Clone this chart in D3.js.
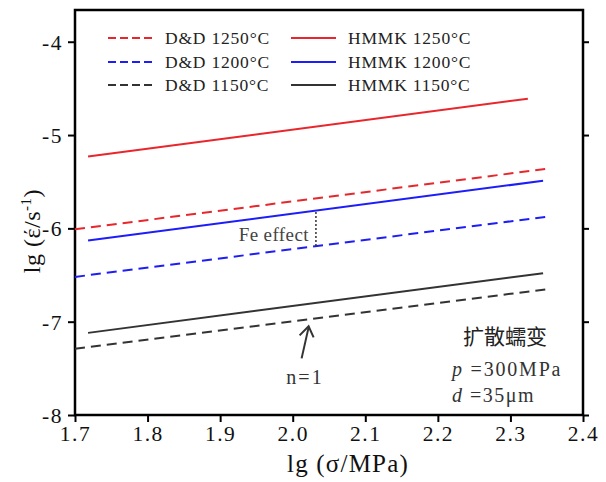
<!DOCTYPE html>
<html><head><meta charset="utf-8">
<script src="https://cdn.jsdelivr.net/npm/d3@7"></script>
<style>body{margin:0;background:#fff}svg{display:block}</style>
</head><body>
<svg id="c" width="606" height="482"></svg>
<script>
const xTicks = [1.7, 1.8, 1.9, 2.0, 2.1, 2.2, 2.3, 2.4];
const yTicks = [-8, -7, -6, -5, -4];
const seriesNames = ["D&D 1250°C", "D&D 1200°C", "D&D 1150°C", "HMMK 1250°C", "HMMK 1200°C", "HMMK 1150°C"];
const seriesColors = ["#e8262b", "#1d1dfa", "#333333", "#e8262b", "#1d1dfa", "#333333"];
const seriesDashed = [true, true, true, false, false, false];
const seriesX = [[1.70, 2.352], [1.70, 2.355], [1.70, 2.352], [1.718, 2.324], [1.718, 2.345], [1.718, 2.345]];
const seriesY = [[-6.01, -5.36], [-6.52, -5.87], [-7.29, -6.65], [-5.23, -4.61], [-6.13, -5.49], [-7.12, -6.48]];
const feX = 2.032;
const feY = [-5.825, -6.19];

const svg = d3.select("#c");
const L = 75, R = 583, T = 10, B = 415;
const x = d3.scaleLinear().domain([1.7, 2.4]).range([L, R]);
const y = d3.scaleLinear().domain([-8, -3.66]).range([B, T]);
const serif = "'Liberation Serif','Times New Roman',serif";

// axes
const gx = svg.append("g").attr("transform", `translate(0,${B})`)
  .call(d3.axisBottom(x).tickValues(xTicks).tickFormat(d3.format(".1f")).tickSizeOuter(0).tickSize(7).tickPadding(4));
const gy = svg.append("g").attr("transform", `translate(${L},0)`)
  .call(d3.axisLeft(y).tickValues(yTicks).tickFormat(d => String(d).replace("−", "-")).tickSizeOuter(0).tickSize(7).tickPadding(5));
const gr = svg.append("g").attr("transform", `translate(${R},0)`)
  .call(d3.axisRight(y).tickValues(yTicks).tickFormat("").tickSizeOuter(0).tickSize(6));
[gx, gy, gr].forEach(g => {
  g.select(".domain").remove();
  g.selectAll(".tick line").attr("stroke", "#000").attr("stroke-width", 2);
  g.selectAll("text").attr("font-family", serif).attr("font-size", 21.5).attr("letter-spacing", 1.5).attr("fill", "#111");
});
gy.selectAll("text").attr("dy", "0.35em");
svg.append("rect").attr("x", L).attr("y", T).attr("width", R - L).attr("height", B - T)
  .attr("fill", "none").attr("stroke", "#000").attr("stroke-width", 2.5);

// lines
const line = d3.line().x(d => x(d[0])).y(d => y(d[1]));
seriesNames.forEach((n, i) => {
  const pts = seriesX[i].map((xv, j) => [xv, seriesY[i][j]]);
  svg.append("path").attr("d", line(pts)).attr("fill", "none")
    .attr("stroke", seriesColors[i]).attr("stroke-width", 2)
    .attr("stroke-dasharray", seriesDashed[i] ? "10,6" : null);
});

// Fe effect
svg.append("line").attr("x1", x(feX)).attr("x2", x(feX)).attr("y1", y(feY[0])).attr("y2", y(feY[1]))
  .attr("stroke", "#333").attr("stroke-width", 1.5).attr("stroke-dasharray", "2,2");
svg.append("text").attr("x", x(feX) - 7).attr("y", 241).attr("text-anchor", "end")
  .attr("font-family", serif).attr("font-size", 19).attr("letter-spacing", 0.4).attr("fill", "#444").text("Fe effect");

// n=1 arrow
const ax = 2.015;
const tipX = x(ax) + 5, tipY = y(-7.05);
svg.append("line").attr("x1", tipX - 7).attr("y1", tipY + 32).attr("x2", tipX).attr("y2", tipY + 1)
  .attr("stroke", "#333").attr("stroke-width", 2);
svg.append("path").attr("d", `M${tipX - 9},${tipY + 9} L${tipX},${tipY} L${tipX + 5},${tipY + 11}`)
  .attr("fill", "none").attr("stroke", "#333").attr("stroke-width", 2);
svg.append("text").attr("x", 305).attr("y", 384).attr("text-anchor", "middle")
  .attr("font-family", serif).attr("font-size", 20).attr("letter-spacing", 2).attr("fill", "#333").text("n=1");

// annotation block
svg.append("text").attr("x", 505).attr("y", 344).attr("text-anchor", "middle")
  .attr("font-family", "'Noto Sans CJK SC'").attr("font-weight", 400).attr("font-size", 21).attr("fill", "#222").text("扩散蠕变");
const t1 = svg.append("text").attr("x", 452).attr("y", 376).attr("font-family", serif).attr("font-size", 20).attr("letter-spacing", 1.8).attr("fill", "#333");
t1.append("tspan").attr("font-style", "italic").text("p");
t1.append("tspan").text(" =300MPa");
const t2 = svg.append("text").attr("x", 452).attr("y", 402).attr("font-family", serif).attr("font-size", 20).attr("letter-spacing", 1.5).attr("fill", "#333");
t2.append("tspan").attr("font-style", "italic").text("d");
t2.append("tspan").text(" =35μm");

// legend
const legRows = [38, 62, 85];
seriesNames.forEach((n, i) => {
  const col = i < 3 ? 0 : 1;
  const row = i % 3;
  const lx = col === 0 ? 108 : 291;
  const ly = legRows[row];
  svg.append("line").attr("x1", lx).attr("x2", lx + 45).attr("y1", ly).attr("y2", ly)
    .attr("stroke", seriesColors[i]).attr("stroke-width", 2)
    .attr("stroke-dasharray", seriesDashed[i] ? "8,4" : null);
  svg.append("text").attr("x", lx + 57).attr("y", ly + 6).attr("font-family", serif)
    .attr("font-size", 17.5).attr("letter-spacing", 0.8).attr("fill", "#222").text(n);
});

// axis titles
svg.append("text").attr("x", 348).attr("y", 472).attr("text-anchor", "middle")
  .attr("font-family", serif).attr("font-size", 25).attr("letter-spacing", 1.2).attr("fill", "#111").text("lg (σ/MPa)");
const yt = svg.append("text").attr("transform", `translate(40,231) rotate(-90)`)
  .attr("text-anchor", "middle").attr("font-family", serif).attr("font-size", 24).attr("letter-spacing", 0.5).attr("fill", "#111");
yt.append("tspan").text("lg (έ/s");
yt.append("tspan").attr("font-size", 15).attr("dy", -9).text("-1");
yt.append("tspan").attr("dy", 9).text(")");
</script>
</body></html>
